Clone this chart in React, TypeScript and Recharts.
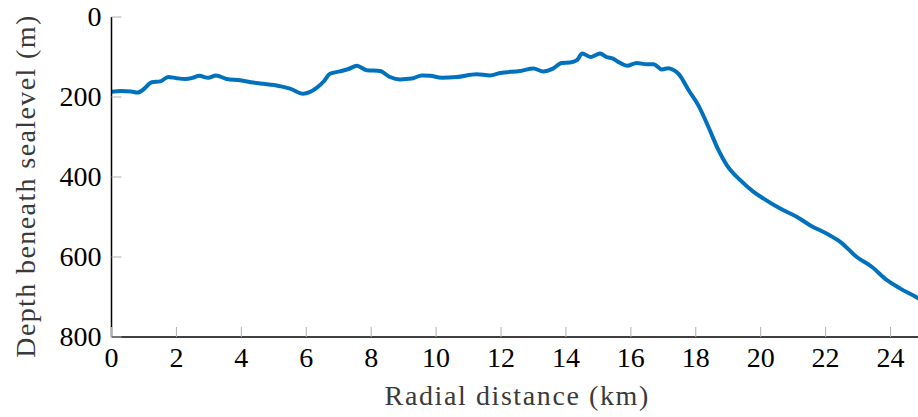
import { LineChart, Line, XAxis, YAxis } from "recharts";

// radial profile
const distanceKm = [
  0, 0.3, 0.6, 0.8, 1.0, 1.24, 1.5, 1.75, 2.0, 2.27, 2.5, 2.7, 2.98, 3.22, 3.55, 3.96, 4.37, 4.68,
  5.0, 5.19, 5.5, 5.91, 6.1, 6.32, 6.55, 6.73, 7.04, 7.3, 7.56, 7.86, 8.27, 8.58, 8.89, 9.25, 9.56,
  9.82, 10.18, 10.64, 11.25, 11.66, 11.97, 12.59, 13.0, 13.3, 13.6, 13.87, 14.13, 14.34, 14.5, 14.75,
  14.9, 15.05, 15.25, 15.45, 15.65, 15.88, 16.18, 16.49, 16.7, 16.95, 17.16, 17.3, 17.47, 17.78,
  18.08, 18.39, 18.7, 18.96, 19.37, 19.78, 20.09, 20.6, 21.12, 21.53, 22.04, 22.45, 22.96, 23.43,
  23.89, 24.3, 24.81, 25.0,
];
const depthM = [
  187, 185, 186, 189, 180, 163, 161, 150, 153, 155, 152, 147, 152, 146, 155, 158, 164, 167,
  170, 173, 179, 192, 188, 177, 160, 142, 136, 130, 122, 133, 135, 150, 156, 154, 146,
  147, 152, 150, 143, 146, 140, 135, 129, 136, 129, 115, 114, 108, 91, 100,
  96, 91, 100, 104, 114, 122, 115, 118, 118, 131, 128, 132, 142, 183,
  221, 275, 333, 371, 408, 437, 454, 479, 500, 521, 542, 562, 600, 625,
  658, 679, 701, 710,
];
const xTicks = [0, 2, 4, 6, 8, 10, 12, 14, 16, 18, 20, 22, 24];
const yTicks = [0, 200, 400, 600, 800];

const data = distanceKm.map((d, i) => ({ dist: d, depth: depthM[i] }));

const FONT = "'Liberation Serif', 'DejaVu Serif', serif";
const TICK_GRAY = "#b0b0b0";
const TICK_LEN = 10;
const LINE_BLUE = "#0072bd";
const LABEL_GRAY = "#3a3a3a";

const BottomTick = (props: any) => {
  const { x, y, payload } = props;
  return (
    <g>
      <line x1={x} y1={y} x2={x} y2={y - TICK_LEN} stroke={TICK_GRAY} strokeWidth={1} />
      <text x={x} y={y + 30} textAnchor="middle" fontSize={28} fontFamily={FONT} fill="#000">
        {payload.value}
      </text>
    </g>
  );
};

const TopTick = (props: any) => {
  const { x, y } = props;
  return <line x1={x} y1={y} x2={x} y2={y + TICK_LEN} stroke={TICK_GRAY} strokeWidth={1} />;
};

const LeftTick = (props: any) => {
  const { x, y, payload } = props;
  return (
    <g>
      <line x1={x} y1={y} x2={x + TICK_LEN} y2={y} stroke={TICK_GRAY} strokeWidth={1} />
      <text x={x - 10} y={y + 9} textAnchor="end" fontSize={28} fontFamily={FONT} fill="#000">
        {payload.value}
      </text>
    </g>
  );
};

const RightTick = (props: any) => {
  const { x, y } = props;
  return <line x1={x} y1={y} x2={x - TICK_LEN} y2={y} stroke={TICK_GRAY} strokeWidth={1} />;
};

export default function App() {
  return (
    <div style={{ position: "absolute", left: 0, top: 0, width: 918, height: 417, overflow: "hidden", background: "#fff" }}>
      <LineChart width={923} height={417} data={data} margin={{ top: 17, right: 0, bottom: 0, left: 0 }}>
        <XAxis
          dataKey="dist"
          type="number"
          domain={[0, 25]}
          ticks={xTicks}
          allowDataOverflow
          height={80}
          tickSize={0}
          tickMargin={0}
          tickLine={false}
          axisLine={{ stroke: "#000", strokeWidth: 1.5 }}
          tick={<BottomTick />}
          label={{
            value: "Radial distance (km)",
            position: "insideBottom",
            offset: 12,
            fontSize: 28,
            fontFamily: FONT,
            fill: LABEL_GRAY,
            letterSpacing: 1.6,
          }}
        />
        <XAxis
          xAxisId="top"
          dataKey="dist"
          type="number"
          orientation="top"
          domain={[0, 25]}
          ticks={xTicks}
          height={0}
          tickSize={0}
          tickMargin={0}
          tickLine={false}
          axisLine={{ stroke: "#000", strokeWidth: 1.5 }}
          tick={<TopTick />}
        />
        <YAxis
          dataKey="depth"
          reversed
          domain={[0, 800]}
          ticks={yTicks}
          width={111.5}
          tickSize={0}
          tickMargin={0}
          tickLine={false}
          axisLine={{ stroke: "#000", strokeWidth: 1.5 }}
          tick={<LeftTick />}
          label={{
            content: (p: any) => {
              const vb = p.viewBox;
              const cy = vb.y + vb.height / 2 + 9;
              return (
                <text
                  x={35}
                  y={cy}
                  transform={`rotate(-90, 35, ${cy})`}
                  textAnchor="middle"
                  fontSize={28}
                  fontFamily={FONT}
                  fill={LABEL_GRAY}
                  letterSpacing={1.4}
                >
                  Depth beneath sealevel (m)
                </text>
              );
            },
          }}
        />
        <YAxis
          yAxisId="right"
          orientation="right"
          reversed
          domain={[0, 800]}
          ticks={yTicks}
          width={0}
          tickSize={0}
          tickMargin={0}
          tickLine={false}
          axisLine={false}
          tick={<RightTick />}
        />
        <Line
          type="monotone"
          dataKey="depth"
          stroke={LINE_BLUE}
          strokeWidth={4}
          dot={false}
          isAnimationActive={false}
        />
      </LineChart>
    </div>
  );
}
